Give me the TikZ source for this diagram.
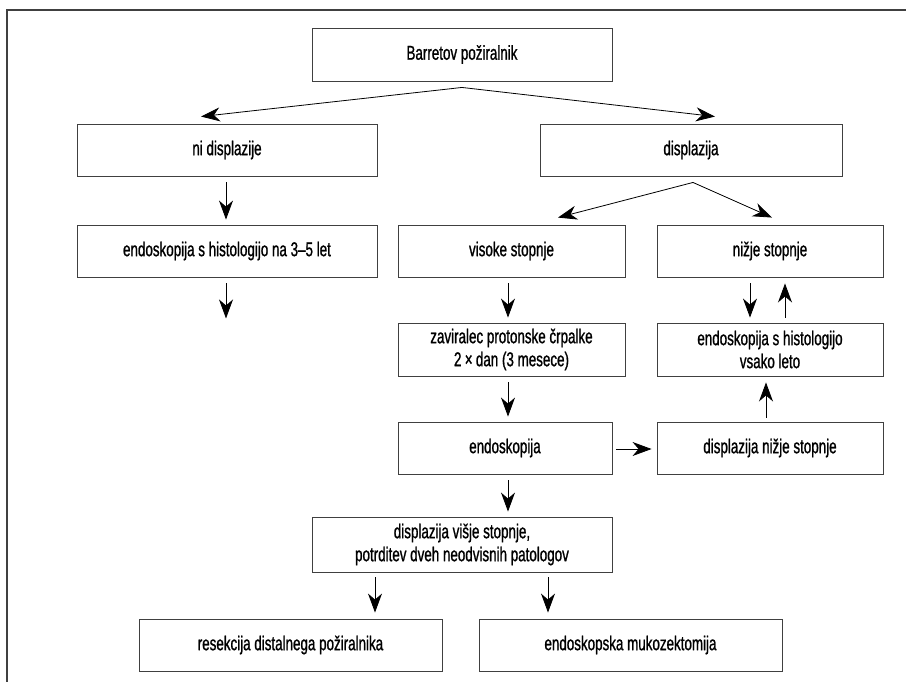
\documentclass[tikz,border=0pt]{standalone}
\usepackage{fontspec}
\setmainfont{Liberation Sans}[FakeStretch=0.67,FakeBold=1]
\usetikzlibrary{arrows.meta,calc}
\begin{document}
\begin{tikzpicture}[x=1pt,y=-1pt,
  box/.style={draw=black!75,line width=0.9pt,inner sep=0pt,align=center,
    font=\fontsize{20}{23}\selectfont},
  arr/.style={line width=0.8pt,-{Stealth[length=19pt,width=14pt,inset=6pt]}}]
\useasboundingbox (0,0) rectangle (906,681);
\draw[black!75,line width=1.6pt] (7,10) rectangle (930,700);
% nodes
\node[box,minimum width=300pt,minimum height=53pt] (bar) at (462,54.5) {Barretov požiralnik};
\node[box,minimum width=300pt,minimum height=52pt] (nid) at (227,150) {ni displazije};
\node[box,minimum width=302pt,minimum height=52pt] (dis) at (691,150) {displazija};
\node[box,minimum width=300pt,minimum height=52pt] (e35) at (227,251) {endoskopija s histologijo na 3–5 let};
\node[box,minimum width=227pt,minimum height=52pt] (vis) at (511.5,251) {visoke stopnje};
\node[box,minimum width=226pt,minimum height=52pt] (niz) at (770,251) {nižje stopnje};
\node[box,minimum width=227pt,minimum height=53pt] (zav) at (511.5,349.5) {zaviralec protonske črpalke\\2\,×\,dan (3 mesece)};
\node[box,minimum width=226pt,minimum height=53pt] (endv) at (770,349.5) {endoskopija s histologijo\\vsako leto};
\node[box,minimum width=214pt,minimum height=52pt] (endo) at (505,448) {endoskopija};
\node[box,minimum width=226pt,minimum height=52pt] (disn) at (770,448) {displazija nižje stopnje};
\node[box,minimum width=300pt,minimum height=55pt] (visj) at (462,544.5) {displazija višje stopnje,\\potrditev dveh neodvisnih patologov};
\node[box,minimum width=303pt,minimum height=52pt] (res) at (290.5,645) {resekcija distalnega požiralnika};
\node[box,minimum width=303pt,minimum height=52pt] (emr) at (630.5,645) {endoskopska mukozektomija};
% helper coordinates
\coordinate (apex1) at ([yshift=-6pt]bar.south);
\coordinate (apex2) at ([xshift=2pt,yshift=-6pt]dis.south);
\coordinate (e35end) at ([xshift=-1pt,yshift=-41pt]e35.south);
% connectors
\draw[arr] (apex1) -- ([xshift=-26pt,yshift=7pt]nid.north);
\draw[arr] (apex1) -- ([xshift=24pt,yshift=7pt]dis.north);
\draw[arr] ([xshift=-1pt,yshift=-6pt]nid.south) -- ([xshift=-1pt,yshift=5pt]e35.north);
\draw[arr] ([xshift=-1pt,yshift=-6pt]e35.south) -- (e35end);
\draw[arr] (apex2) -- ([xshift=46.5pt,yshift=7pt]vis.north);
\draw[arr] (apex2) -- ([xshift=2pt,yshift=7pt]niz.north);
\draw[arr] ([xshift=-3.5pt,yshift=-6pt]vis.south) -- ([xshift=-3.5pt,yshift=5pt]zav.north);
\draw[arr] ([xshift=-20pt,yshift=-6pt]niz.south) -- ([xshift=-20pt,yshift=5pt]endv.north);
\draw[arr] ([xshift=15pt,yshift=5pt]endv.north) -- ([xshift=15pt,yshift=-6pt]niz.south);
\draw[arr] ([xshift=-3.5pt,yshift=-6pt]zav.south) -- ([xshift=3pt,yshift=5pt]endo.north);
\draw[arr] ([xshift=-4pt,yshift=4pt]disn.north) -- ([xshift=-4pt,yshift=-6pt]endv.south);
\draw[arr] ([xshift=4pt,yshift=-1pt]endo.east) -- ([xshift=-5pt,yshift=-1pt]disn.west);
\draw[arr] ([xshift=3pt,yshift=-6pt]endo.south) -- ([xshift=46pt,yshift=5pt]visj.north);
\draw[arr] ([xshift=-87pt,yshift=-5pt]visj.south) -- ([xshift=84.5pt,yshift=6pt]res.north);
\draw[arr] ([xshift=86pt,yshift=-5pt]visj.south) -- ([xshift=-82.5pt,yshift=6pt]emr.north);
\end{tikzpicture}
\end{document}
